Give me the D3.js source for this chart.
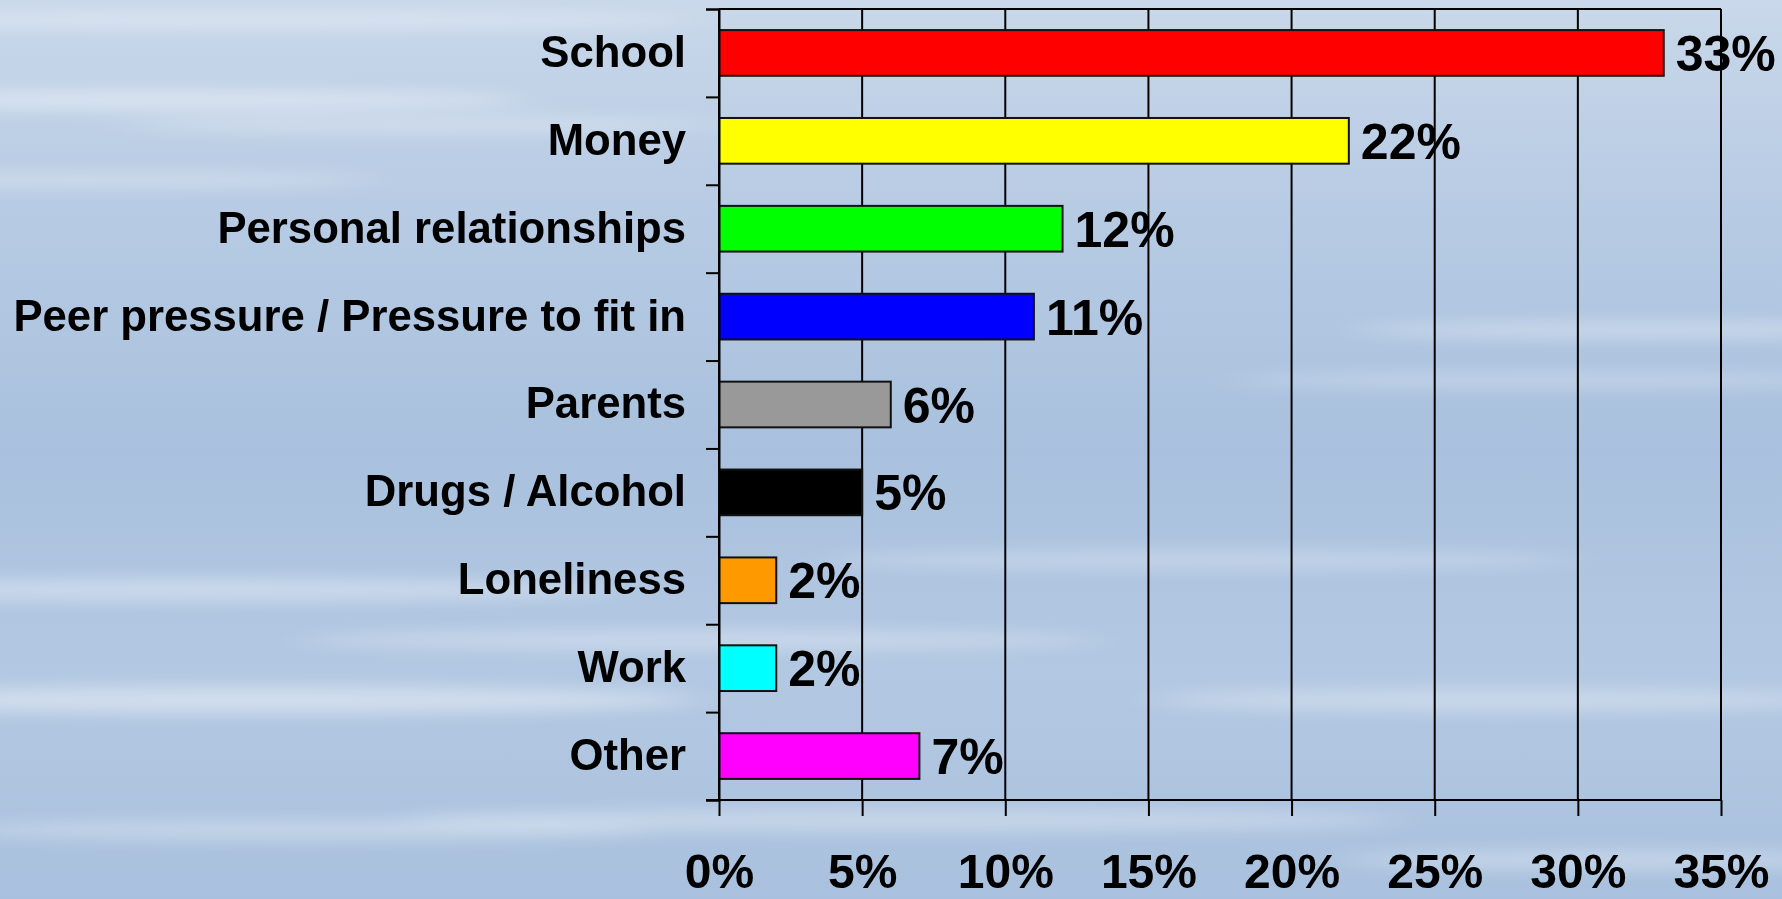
<!DOCTYPE html>
<html>
<head>
<meta charset="utf-8">
<script src="https://cdn.jsdelivr.net/npm/d3@7"></script>
<style>
  html, body { margin: 0; padding: 0; overflow: hidden; }
  svg { display: block; }
</style>
</head>
<body>
<script>
// data
var categories = ["School", "Money", "Personal relationships", "Peer pressure / Pressure to fit in",
                  "Parents", "Drugs / Alcohol", "Loneliness", "Work", "Other"];
var values = [33, 22, 12, 11, 6, 5, 2, 2, 7];
var barColors = ["#ff0000", "#ffff00", "#00ff00", "#0000ff", "#999999", "#000000", "#ff9900", "#00ffff", "#ff00ff"];
var xTicks = [0, 5, 10, 15, 20, 25, 30, 35];

var width = 1782, height = 899;
var plotLeft = 719, plotRight = 1721, plotTop = 9, plotBottom = 800;
var font = "'Liberation Sans', Arial, sans-serif";

var svg = d3.select("body").append("svg")
    .attr("width", width)
    .attr("height", height);

// sky background
var defs = svg.append("defs");
var grad = defs.append("linearGradient")
    .attr("id", "sky")
    .attr("x1", 0).attr("y1", 0).attr("x2", 0).attr("y2", 1);
grad.append("stop").attr("offset", "0%").attr("stop-color", "#c9d8ea");
grad.append("stop").attr("offset", "25%").attr("stop-color", "#b6cae3");
grad.append("stop").attr("offset", "50%").attr("stop-color", "#a9c1de");
grad.append("stop").attr("offset", "75%").attr("stop-color", "#b3c8e2");
grad.append("stop").attr("offset", "100%").attr("stop-color", "#a9c1de");
defs.append("filter").attr("id", "blur")
    .attr("x", "-20%").attr("y", "-300%").attr("width", "140%").attr("height", "700%")
    .append("feGaussianBlur").attr("stdDeviation", "25 8");

svg.append("rect")
    .attr("width", width)
    .attr("height", height)
    .attr("fill", "url(#sky)");

// whitish streaks
var streaks = [
    [250, 20, 450, 8, 0.35], [150, 100, 380, 10, 0.4], [420, 125, 300, 8, 0.3],
    [80, 180, 300, 8, 0.3], [1650, 330, 300, 8, 0.35], [1550, 380, 320, 8, 0.25],
    [200, 590, 420, 12, 0.35], [700, 640, 400, 10, 0.3], [250, 700, 450, 14, 0.4],
    [1200, 560, 380, 10, 0.25], [1500, 700, 350, 12, 0.3], [900, 820, 500, 12, 0.3],
    [300, 830, 350, 10, 0.3], [1600, 860, 260, 10, 0.3]
];
svg.append("g").attr("filter", "url(#blur)")
  .selectAll("ellipse")
  .data(streaks)
  .join("ellipse")
    .attr("cx", function(d) { return d[0]; })
    .attr("cy", function(d) { return d[1]; })
    .attr("rx", function(d) { return d[2]; })
    .attr("ry", function(d) { return d[3]; })
    .attr("fill", "#ffffff")
    .attr("opacity", function(d) { return d[4]; });

// scales
var x = d3.scaleLinear().domain([0, 35]).range([plotLeft, plotRight]);
var y = d3.scaleBand().domain(categories).range([plotTop, plotBottom])
    .paddingInner(0.48).paddingOuter(0.24);
var slot = d3.scaleLinear().domain([0, categories.length]).range([plotTop, plotBottom]);

// gridlines
svg.append("g")
  .selectAll("line")
  .data(xTicks)
  .join("line")
    .attr("x1", function(d) { return x(d); })
    .attr("x2", function(d) { return x(d); })
    .attr("y1", plotTop)
    .attr("y2", plotBottom)
    .attr("stroke", "#000")
    .attr("stroke-width", 2);
svg.append("line")
    .attr("x1", plotLeft).attr("x2", plotRight)
    .attr("y1", plotTop).attr("y2", plotTop)
    .attr("stroke", "#000")
    .attr("stroke-width", 2);

// bars
svg.append("g")
  .selectAll("rect")
  .data(values)
  .join("rect")
    .attr("x", x(0))
    .attr("y", function(d, i) { return y(categories[i]); })
    .attr("width", function(d) { return x(d) - x(0); })
    .attr("height", y.bandwidth())
    .attr("fill", function(d, i) { return barColors[i]; })
    .attr("stroke", "#111")
    .attr("stroke-width", 2);

// value labels
svg.append("g")
  .selectAll("text")
  .data(values)
  .join("text")
    .attr("x", function(d) { return x(d) + 12; })
    .attr("y", function(d, i) { return y(categories[i]) + y.bandwidth() / 2; })
    .attr("dy", "0.36em")
    .attr("font-family", font)
    .attr("font-weight", "bold")
    .attr("font-size", "50px")
    .attr("fill", "#000")
    .text(function(d) { return d + "%"; });

// left axis ticks at slot boundaries
var leftAxis = svg.append("g")
    .attr("transform", "translate(" + plotLeft + ",0)")
    .call(d3.axisLeft(slot).tickValues(d3.range(categories.length + 1)).tickSize(13).tickFormat(""));
leftAxis.selectAll("line, path").attr("stroke", "#000").attr("stroke-width", 2);

// category labels
var catAxis = svg.append("g")
    .attr("transform", "translate(" + plotLeft + ",0)")
    .call(d3.axisLeft(y).tickSize(0).tickPadding(33));
catAxis.select(".domain").remove();
catAxis.selectAll("text")
    .attr("font-family", font)
    .attr("font-weight", "bold")
    .attr("font-size", "43.7px")
    .attr("fill", "#000");

// bottom axis
var bottomAxis = svg.append("g")
    .attr("transform", "translate(0," + plotBottom + ")")
    .call(d3.axisBottom(x).tickValues(xTicks).tickSize(16).tickPadding(38)
        .tickFormat(function(d) { return d + "%"; }));
bottomAxis.select(".domain").attr("d", "M" + (plotLeft - 13) + ",0H" + plotRight);
bottomAxis.selectAll("line, path").attr("stroke", "#000").attr("stroke-width", 2);
bottomAxis.selectAll("text")
    .attr("font-family", font)
    .attr("font-weight", "bold")
    .attr("font-size", "48px")
    .attr("fill", "#000");
</script>
</body>
</html>
